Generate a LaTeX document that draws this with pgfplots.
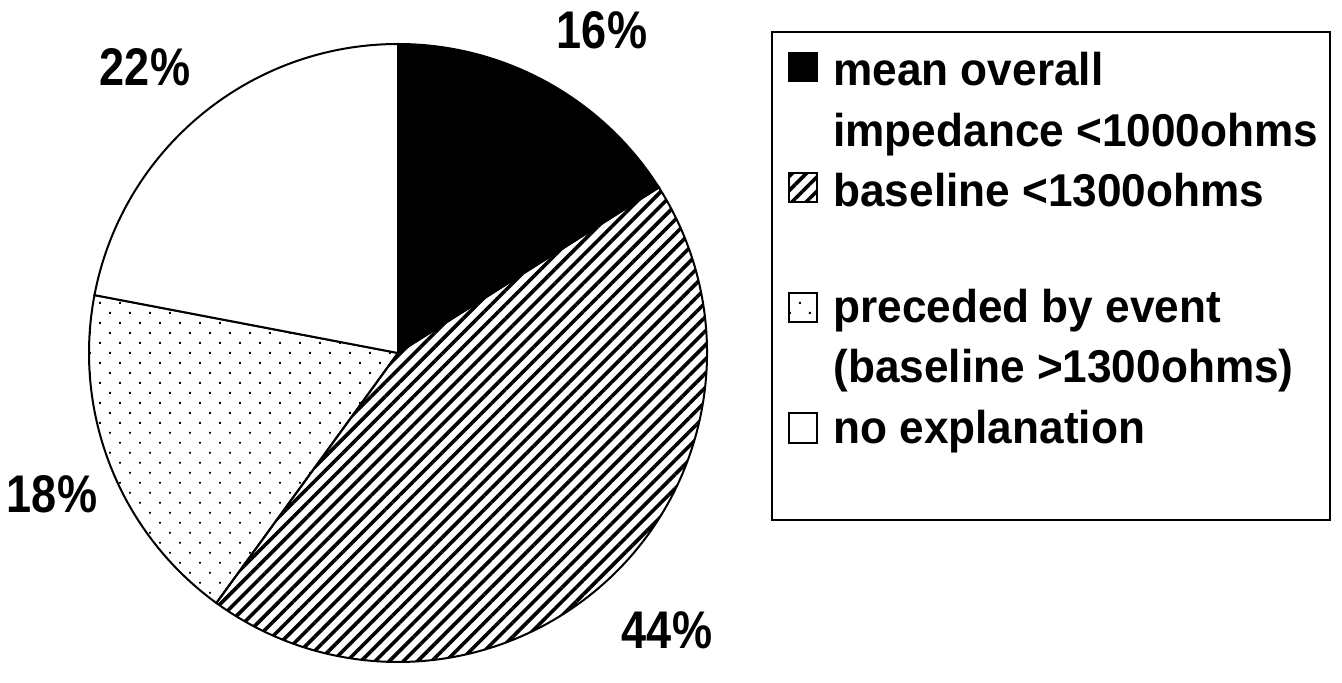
\documentclass[border=0pt]{standalone}
\usepackage{fontspec}
\setmainfont{Liberation Sans}
\newfontfamily\pctfont{Liberation Sans}[FakeStretch=0.85]
\newfontfamily\legfont{Liberation Sans}[FakeStretch=0.96]
\usepackage{pgfplots}
\usepackage{pgfplotstable}
\pgfplotsset{compat=1.18}
\usetikzlibrary{patterns.meta}

\pgfplotstableread{
label share
mean 16
baseline 44
preceded 18
none 22
}\piedata

\begin{document}
\begin{tikzpicture}
\pgfplotstablegetelem{0}{share}\of\piedata \edef\sA{\pgfplotsretval}
\pgfplotstablegetelem{1}{share}\of\piedata \edef\sB{\pgfplotsretval}
\pgfplotstablegetelem{2}{share}\of\piedata \edef\sC{\pgfplotsretval}
\pgfplotstablegetelem{3}{share}\of\piedata \edef\sD{\pgfplotsretval}
\pgfmathsetmacro\aZ{90}
\pgfmathsetmacro\aA{\aZ-3.6*\sA}
\pgfmathsetmacro\aB{\aA-3.6*\sB}
\pgfmathsetmacro\aC{\aB-3.6*\sC}
\pgfmathsetmacro\aD{\aC-3.6*\sD}
\def\R{154.5pt}
\begin{axis}[x=0.5pt,y=0.5pt,xmin=0,xmax=1342,ymin=0,ymax=664,hide axis,clip=false]
\path (axis cs:0,0) rectangle (axis cs:1342,664);
% slices
\tikzset{hatch/.style={pattern={Lines[angle=45, distance=5pt, line width=1.8pt]}},
         dots/.style={pattern={Dots[angle=45, distance=7.07pt, radius=0.65pt]}},
         edge/.style={draw=black, line width=1pt}}
\filldraw[fill=black, edge] (axis cs:398,311) -- ++(\aZ:\R) arc[start angle=\aZ, end angle=\aA, radius=\R] -- cycle;
\filldraw[hatch, edge] (axis cs:398,311) -- ++(\aA:\R) arc[start angle=\aA, end angle=\aB, radius=\R] -- cycle;
\filldraw[dots, edge] (axis cs:398,311) -- ++(\aB:\R) arc[start angle=\aB, end angle=\aC, radius=\R] -- cycle;
\filldraw[fill=white, edge] (axis cs:398,311) -- ++(\aC:\R) arc[start angle=\aC, end angle=\aD, radius=\R] -- cycle;
% percentage labels
\tikzset{pct/.style={anchor=base, inner sep=0pt, font=\pctfont\bfseries\fontsize{26.5}{30}\selectfont}}
\node[pct] at (axis cs:602,615) {\sA\%};
\node[pct] at (axis cs:667,16) {\sB\%};
\node[pct] at (axis cs:52,152) {\sC\%};
\node[pct] at (axis cs:145,578) {\sD\%};
% legend
\draw[line width=1pt] (axis cs:772,632) rectangle (axis cs:1330,144);
\filldraw[fill=black, edge] (axis cs:789,583) rectangle (axis cs:817,611);
\filldraw[hatch, edge] (axis cs:789,462) rectangle (axis cs:817,491);
\filldraw[dots, edge] (axis cs:789,342) rectangle (axis cs:817,371);
\filldraw[fill=white, edge] (axis cs:789,221) rectangle (axis cs:817,251);
\tikzset{leg/.style={anchor=base west, inner sep=0pt, font=\legfont\bfseries\fontsize{23}{27}\selectfont}}
\node[leg] at (axis cs:833,578) {mean overall};
\node[leg] at (axis cs:833,517) {impedance <1000ohms};
\node[leg] at (axis cs:833,458) {baseline <1300ohms};
\node[leg] at (axis cs:833,342) {preceded by event};
\node[leg] at (axis cs:833,282) {(baseline >1300ohms)};
\node[leg] at (axis cs:833,221) {no explanation};
\end{axis}
\end{tikzpicture}
\end{document}
